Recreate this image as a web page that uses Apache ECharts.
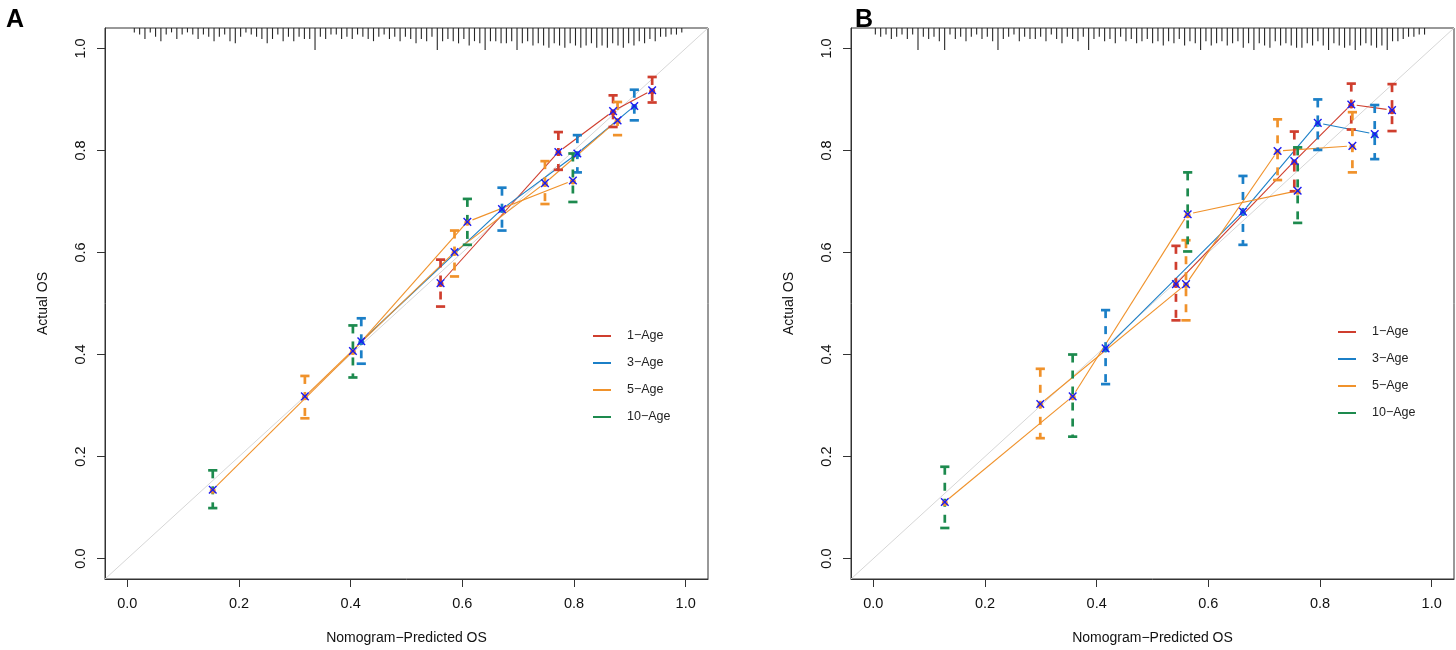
<!DOCTYPE html>
<html><head><meta charset="utf-8">
<script src="https://cdn.jsdelivr.net/npm/echarts@6/dist/echarts.min.js"></script>
<style>html,body{margin:0;padding:0;background:#fff}#c{width:1456px;height:650px}</style>
</head><body><div id="c"></div><script>
// ---------- data ----------
const seriesNames = ['1\u2212Age', '3\u2212Age', '5\u2212Age', '10\u2212Age'];
const xTickValues = [0, 0.2, 0.4, 0.6, 0.8, 1.0];
const yTickValues = [0, 0.2, 0.4, 0.6, 0.8, 1.0];
// rows: [nomogram-predicted, actual, lower CI, upper CI]
const A_1Age  = [[0.561,0.540,0.494,0.586],[0.772,0.797,0.762,0.836],[0.870,0.877,0.846,0.908],[0.940,0.918,0.894,0.944]];
const A_3Age  = [[0.419,0.426,0.382,0.471],[0.671,0.685,0.643,0.727],[0.806,0.794,0.757,0.830],[0.908,0.887,0.859,0.919]];
const A_5Age  = [[0.318,0.318,0.275,0.358],[0.586,0.601,0.553,0.643],[0.748,0.736,0.695,0.779],[0.878,0.859,0.830,0.895]];
const A_10Age = [[0.153,0.135,0.099,0.173],[0.404,0.407,0.355,0.457],[0.609,0.660,0.615,0.705],[0.798,0.741,0.699,0.794]];
const B_1Age  = [[0.542,0.538,0.467,0.613],[0.754,0.779,0.720,0.837],[0.856,0.890,0.841,0.931],[0.929,0.879,0.838,0.930]];
const B_3Age  = [[0.416,0.412,0.342,0.487],[0.662,0.680,0.615,0.750],[0.796,0.854,0.801,0.900],[0.898,0.832,0.783,0.889]];
const B_5Age  = [[0.299,0.303,0.236,0.372],[0.560,0.538,0.467,0.624],[0.724,0.799,0.742,0.861],[0.858,0.809,0.757,0.875]];
const B_10Age = [[0.128,0.111,0.060,0.180],[0.357,0.318,0.239,0.400],[0.563,0.675,0.602,0.757],[0.760,0.721,0.658,0.806]];
// spike histogram of predicted values (counts per bin) along the top
const rugA_start = 0.0125, rugA_step = 0.00952;
const rugA = [2,3,5,2,4,6,3,2,5,3, 2,3,5,3,4,6,4,3,6,7, 4,2,3,4,5,7,5,3,6,4, 6,4,5,5,10,4,5,3,3,5,
              4,5,3,4,5,6,4,3,5,4, 6,4,5,7,5,6,4,10,6,5, 6,7,5,8,6,7,10,6,6,7, 7,6,10,7,6,8,7,8,9,7,
              8,9,7,8,9,8,7,9,8,9, 7,8,9,7,8,6,7,5,6,4, 4,3,3,2];
const rugB_start = 0.0036, rugB_step = 0.00955;
const rugB = [3,4,3,5,4,3,5,3,10,4, 5,4,6,10,3,5,4,6,4,3, 5,4,6,10,5,4,3,6,4,5, 5,4,6,3,5,7,4,5,6,4,
              10,5,4,6,5,7,4,6,5,7, 6,5,7,6,8,6,7,5,8,6, 7,10,6,8,7,6,8,7,6,9, 7,10,7,8,9,6,8,7,8,9,
              9,7,8,6,8,10,7,8,9,8, 10,8,7,8,9,8,10,6,6,5, 4,4,3,3];

// ---------- styles ----------
const barColors  = ['#cf3e2e', '#1b7fc7', '#f0922b', '#1d8a4e'];
const lineColors = ['#cf3e2e', '#1b7fc7', '#f0922b', '#f0922b'];
const FONT = 'Liberation Sans, Arial, Helvetica, sans-serif';
const AX_MIN = -0.04, AX_MAX = 1.04;
const rugUnit = 0.0043;

const panels = [
  {data: [A_1Age, A_3Age, A_5Age, A_10Age], rug: rugA, start: rugA_start, step: rugA_step},
  {data: [B_1Age, B_3Age, B_5Age, B_10Age], rug: rugB, start: rugB_start, step: rugB_step}
];

function renderErr(params, api) {
  const x = api.value(0), lo = api.value(2), hi = api.value(3);
  const t = api.coord([x, hi]), b = api.coord([x, lo]);
  const c = api.visual('color');
  const cap = 4.6, lw = 2.7;
  return {type: 'group', children: [
    {type: 'line', shape: {x1: t[0], y1: t[1], x2: b[0], y2: b[1]}, style: {stroke: c, lineWidth: lw, lineDash: [8, 8]}},
    {type: 'line', shape: {x1: t[0] - cap, y1: t[1], x2: t[0] + cap, y2: t[1]}, style: {stroke: c, lineWidth: lw}},
    {type: 'line', shape: {x1: b[0] - cap, y1: b[1], x2: b[0] + cap, y2: b[1]}, style: {stroke: c, lineWidth: lw}}
  ]};
}
// connecting segment with a small gap at each point (R type = "b")
function renderSeg(params, api) {
  const p = api.coord([api.value(0), api.value(1)]);
  const q = api.coord([api.value(2), api.value(3)]);
  const dx = q[0] - p[0], dy = q[1] - p[1];
  const L = Math.sqrt(dx * dx + dy * dy), g = 5.5;
  if (L <= 2 * g) return null;
  const ux = dx / L, uy = dy / L;
  return {type: 'line', shape: {x1: p[0] + ux * g, y1: p[1] + uy * g, x2: q[0] - ux * g, y2: q[1] - uy * g},
          style: {stroke: api.visual('color'), lineWidth: 1.1}};
}
function renderPt(params, api) {
  const p = api.coord([api.value(0), api.value(1)]);
  const c = api.visual('color');
  const s = 3.8;
  return {type: 'group', children: [
    {type: 'circle', shape: {cx: p[0], cy: p[1] + 1, r: 3}, style: {fill: c}},
    {type: 'line', shape: {x1: p[0] - s, y1: p[1] - s, x2: p[0] + s, y2: p[1] + s}, style: {stroke: '#1a1af2', lineWidth: 1.4}},
    {type: 'line', shape: {x1: p[0] - s, y1: p[1] + s, x2: p[0] + s, y2: p[1] - s}, style: {stroke: '#1a1af2', lineWidth: 1.4}}
  ]};
}
function renderRug(params, api) {
  const x = api.value(0), n = api.value(1);
  const t = api.coord([x, AX_MAX]), b = api.coord([x, AX_MAX - n * rugUnit]);
  return {type: 'line', shape: {x1: t[0], y1: t[1], x2: b[0], y2: b[1]}, style: {stroke: '#262626', lineWidth: 1.1}};
}

const grids = [
  {left: 105, top: 28, width: 603, height: 552, show: true, borderColor: '#333', borderWidth: 1, backgroundColor: 'transparent'},
  {left: 851, top: 28, width: 603, height: 552, show: true, borderColor: '#333', borderWidth: 1, backgroundColor: 'transparent'}
];
const xAxes = [0, 1].map(i => ({
  type: 'value', gridIndex: i, min: AX_MIN, max: AX_MAX, position: 'bottom',
  name: 'Nomogram\u2212Predicted OS', nameLocation: 'middle', nameGap: 52,
  nameTextStyle: {fontFamily: FONT, fontSize: 14, color: '#111'},
  axisLine: {show: true, onZero: false, lineStyle: {color: '#333', width: 1}},
  axisTick: {show: true, customValues: xTickValues, length: 8, lineStyle: {color: '#333'}},
  axisLabel: {show: true, customValues: xTickValues, margin: 17, formatter: v => v.toFixed(1),
              fontFamily: FONT, fontSize: 14.5, color: '#111'},
  splitLine: {show: false}
}));
const yAxes = [0, 1].map(i => ({
  type: 'value', gridIndex: i, min: AX_MIN, max: AX_MAX, position: 'left',
  name: 'Actual OS', nameLocation: 'middle', nameGap: 55, nameRotate: 90,
  nameTextStyle: {fontFamily: FONT, fontSize: 14, color: '#111'},
  axisLine: {show: true, onZero: false, lineStyle: {color: '#333', width: 1}},
  axisTick: {show: true, customValues: yTickValues, length: 8, lineStyle: {color: '#333'}},
  axisLabel: {show: true, customValues: yTickValues, margin: 17, rotate: 90, formatter: v => v.toFixed(1),
              fontFamily: FONT, fontSize: 14.5, color: '#111'},
  splitLine: {show: false}
}));

const series = [];
panels.forEach((pn, pi) => {
  series.push({type: 'line', xAxisIndex: pi, yAxisIndex: pi, silent: true, symbol: 'none', z: 1,
    data: [[AX_MIN, AX_MIN], [AX_MAX, AX_MAX]], lineStyle: {color: '#d6d6d6', width: 1}});
  series.push({type: 'custom', xAxisIndex: pi, yAxisIndex: pi, silent: true, z: 2, renderItem: renderRug,
    data: pn.rug.map((n, k) => [pn.start + k * pn.step, n])});
  pn.data.forEach((rows, si) => {
    series.push({type: 'custom', name: 'curve ' + seriesNames[si], xAxisIndex: pi, yAxisIndex: pi, z: 3,
      renderItem: renderSeg, itemStyle: {color: lineColors[si]}, encode: {x: [0, 2], y: [1, 3]},
      data: rows.slice(1).map((r, k) => [rows[k][0], rows[k][1], r[0], r[1]])});
  });
  pn.data.forEach((rows, si) => {
    series.push({type: 'custom', name: seriesNames[si], xAxisIndex: pi, yAxisIndex: pi, z: 4, renderItem: renderErr,
      itemStyle: {color: barColors[si]}, encode: {x: 0, y: 1}, data: rows});
  });
  pn.data.forEach((rows, si) => {
    series.push({type: 'custom', name: 'pts ' + seriesNames[si], xAxisIndex: pi, yAxisIndex: pi, z: 5, renderItem: renderPt,
      itemStyle: {color: lineColors[si]}, encode: {x: 0, y: 1}, data: rows});
  });
});

const legendBase = {
  orient: 'vertical', icon: 'rect', itemWidth: 18, itemHeight: 2, itemGap: 13, selectedMode: false, padding: 0,
  textStyle: {fontFamily: FONT, fontSize: 12.5, color: '#222', lineHeight: 14, padding: [0, 0, 0, 11]},
  data: seriesNames.map((n, i) => ({name: n, itemStyle: {color: barColors[i]}}))
};

const chart = echarts.init(document.getElementById('c'), null, {renderer: 'canvas'});
chart.setOption({
  animation: false,
  backgroundColor: '#fff',
  title: [
    {text: 'A', left: 1, top: 3, textStyle: {fontFamily: FONT, fontSize: 25, fontWeight: 'bold', color: '#000'}},
    {text: 'B', left: 850, top: 3, textStyle: {fontFamily: FONT, fontSize: 25, fontWeight: 'bold', color: '#000'}}
  ],
  legend: [
    Object.assign({}, legendBase, {left: 593, top: 329}),
    Object.assign({}, legendBase, {left: 1338, top: 325})
  ],
  grid: grids, xAxis: xAxes, yAxis: yAxes, series: series
});
</script></body></html>
